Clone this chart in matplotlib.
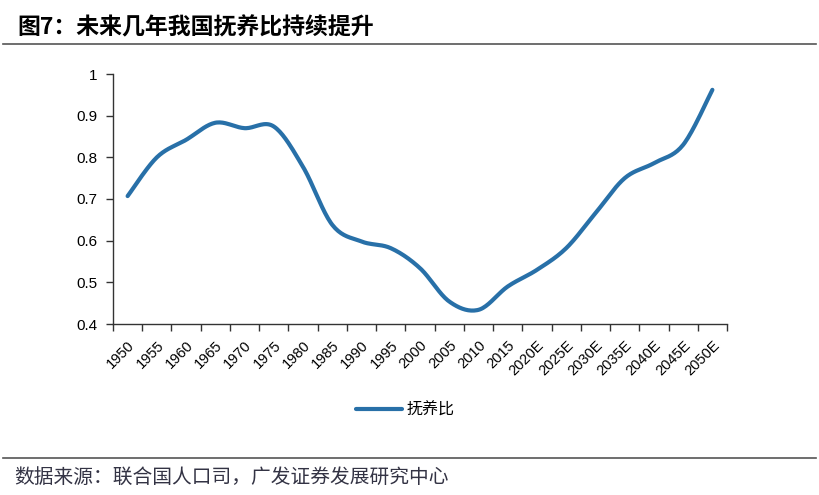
import numpy as np
import matplotlib.pyplot as plt
from matplotlib.lines import Line2D
from matplotlib.font_manager import FontProperties

plt.rcParams['font.family'] = ['Liberation Sans', 'Noto Sans CJK SC', 'DejaVu Sans']

# data
years = ["1950", "1955", "1960", "1965", "1970", "1975", "1980", "1985", "1990", "1995",
         "2000", "2005", "2010", "2015", "2020E", "2025E", "2030E", "2035E", "2040E",
         "2045E", "2050E"]
ratio = [0.707, 0.800, 0.842, 0.883, 0.870, 0.874, 0.777, 0.638, 0.598, 0.582,
         0.534, 0.454, 0.434, 0.490, 0.530, 0.582, 0.666, 0.750, 0.786, 0.830, 0.962]
series_name = "抚养比"
title = "图7：未来几年我国抚养比持续提升"
source = "数据来源：联合国人口司，广发证券发展研究中心"

color = "#2870A8"


def smooth(xs, ys, n=20):
    # Catmull-Rom style smoothing like a spreadsheet "smoothed line"
    xs = np.asarray(xs, float)
    ys = np.asarray(ys, float)
    px = np.concatenate([[xs[0]], xs, [xs[-1]]])
    py = np.concatenate([[ys[0]], ys, [ys[-1]]])
    outx, outy = [], []
    for i in range(1, len(px) - 2):
        p0, p1, p2, p3 = (np.array([px[j], py[j]]) for j in (i - 1, i, i + 1, i + 2))
        c1 = p1 + (p2 - p0) / 6
        c2 = p2 - (p3 - p1) / 6
        t = np.linspace(0, 1, n, endpoint=(i == len(px) - 3))[:, None]
        b = ((1 - t) ** 3) * p1 + 3 * ((1 - t) ** 2) * t * c1 + 3 * (1 - t) * t ** 2 * c2 + t ** 3 * p2
        outx.extend(b[:, 0])
        outy.extend(b[:, 1])
    return np.array(outx), np.array(outy)


fig = plt.figure(figsize=(8.19, 4.95), dpi=100)
ax = fig.add_axes([113 / 819, 1 - 324 / 495, (727 - 113) / 819, (324 - 74) / 495])

x = np.arange(len(years))
sx, sy = smooth(x, ratio)
ax.plot(sx, sy, color=color, lw=3.0, solid_capstyle='round')

ax.set_xlim(-0.5, len(years) - 0.5)
ax.set_ylim(0.4, 1.0)
ax.set_yticks(np.arange(0.4, 1.01, 0.1))
ax.set_yticklabels(["0.4", "0.5", "0.6", "0.7", "0.8", "0.9", "1"], fontsize=11)
ax.set_xticks(x)
ax.set_xticklabels(years, rotation=45, fontsize=10.5, ha='right', va='top',
                   rotation_mode='anchor')
ax.tick_params(axis='x', length=0, pad=10)
ax.set_xticks(np.arange(-0.5, len(years)), minor=True)
ax.tick_params(axis='x', which='minor', length=5, width=1, color='#333333')
ax.tick_params(axis='y', length=5, width=1, color='#333333', pad=6.5)
for s in ['top', 'right']:
    ax.spines[s].set_visible(False)
for s in ['left', 'bottom']:
    ax.spines[s].set_color('#333333')
    ax.spines[s].set_linewidth(1)

handle = Line2D([], [], color=color, lw=3.0, solid_capstyle='round')
fig.legend([handle], [series_name], loc='center', bbox_to_anchor=(405 / 819, 1 - 410 / 495),
           frameon=False, handlelength=2.9, handletextpad=0.25,
           prop=FontProperties(family='Noto Sans CJK SC', size=11.5))

fig.text(17 / 819, 1 - 28 / 495, title, fontsize=16.5, fontweight='bold', va='center',
         family=['Noto Sans CJK SC'])
fig.text(14 / 819, 1 - 478 / 495, source, fontsize=14.2, va='center', color='#333344',
         family=['Noto Sans CJK SC'])
fig.add_artist(Line2D([3 / 819, 816 / 819], [1 - 44 / 495] * 2, color='#555555', lw=1.2))
fig.add_artist(Line2D([3 / 819, 816 / 819], [1 - 458 / 495] * 2, color='#555555', lw=1.2))

fig.savefig("out.png", dpi=100)
